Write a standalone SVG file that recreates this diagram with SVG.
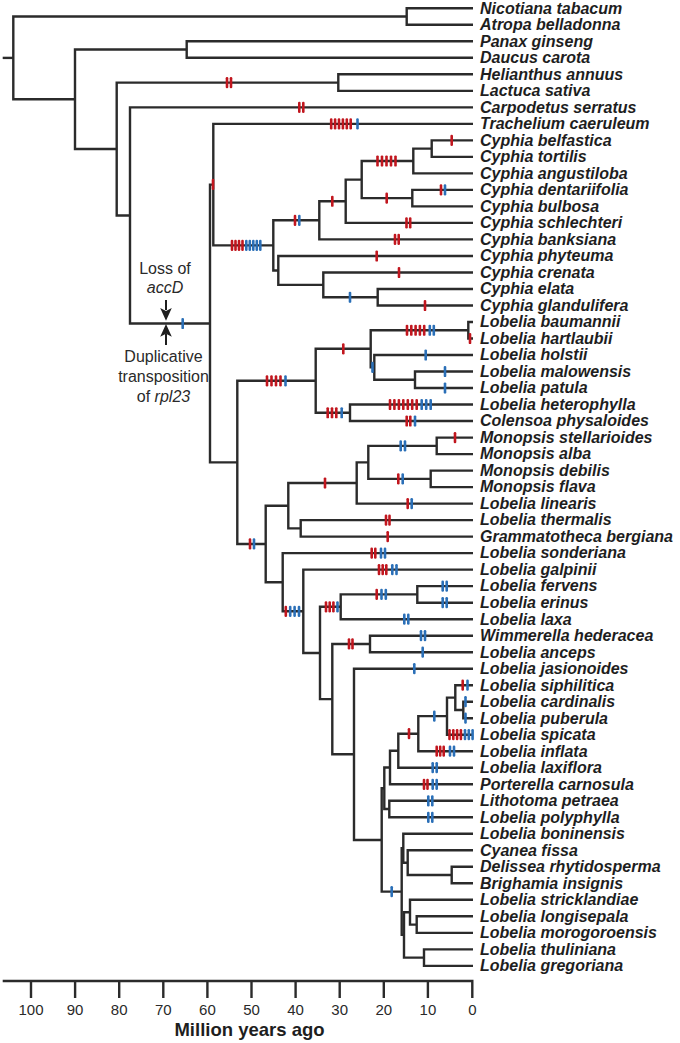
<svg xmlns="http://www.w3.org/2000/svg" width="680" height="1043" viewBox="0 0 680 1043">
<style>
.br{fill:none;stroke:#2b2b2b;stroke-width:2.4;stroke-linejoin:miter}
.lb{font-family:"Liberation Sans",Arial,sans-serif;font-size:16px;font-weight:bold;font-style:italic;fill:#1e1e1e}
.an{font-family:"Liberation Sans",Arial,sans-serif;font-size:16px;fill:#2a2a2a;text-anchor:middle}
.tk{font-family:"Liberation Sans",Arial,sans-serif;font-size:15px;fill:#2a2a2a;text-anchor:middle}
.ax{font-family:"Liberation Sans",Arial,sans-serif;font-size:18.5px;font-weight:bold;fill:#1e1e1e;text-anchor:middle}
</style>
<defs>
<rect id="r" x="-1.3" y="-5.6" width="2.6" height="11.2" rx="1.2" fill="#c1161e"/>
<rect id="b" x="-1.3" y="-5.6" width="2.6" height="11.2" rx="1.2" fill="#2a6fb7"/>
</defs>
<rect width="680" height="1043" fill="#fff"/>
<g id="connectors" class="br">
<path d="M2.7,57.9 H13.3"/>
<path d="M406.7,16.55 H13.3 V99.3 H75"/>
<path d="M473,8.3 H406.7 V24.8 H473"/>
<path d="M186.7,49.55 H75 V149 H116.7"/>
<path d="M473,41.3 H186.7 V57.8 H473"/>
<path d="M338.3,82.6 H116.7 V215.45 H130"/>
<path d="M473,74.3 H338.3 V90.9 H473"/>
<path d="M473,107.4 H130 V323.5 H210"/>
<path d="M213.3,184.65 H210 V462.4 H237.3"/>
<path d="M473,123.9 H213.3 V245.4 H273.3"/>
<path d="M319.3,220.3 H273.3 V270.45 H278.3"/>
<path d="M345.7,201.25 H319.3 V239.4 H473"/>
<path d="M361.7,179.6 H345.7 V222.9 H473"/>
<path d="M413.3,161 H361.7 V198.15 H412.3"/>
<path d="M431.7,148.65 H413.3 V173.4 H473"/>
<path d="M473,140.4 H431.7 V156.9 H473"/>
<path d="M473,189.9 H412.3 V206.4 H473"/>
<path d="M473,256 H278.3 V284.9 H323.3"/>
<path d="M473,272.5 H323.3 V297.25 H377.7"/>
<path d="M473,289 H377.7 V305.5 H473"/>
<path d="M315.7,380.8 H237.3 V543.95 H265.7"/>
<path d="M370.7,348.8 H315.7 V412.75 H350"/>
<path d="M468.3,330.25 H370.7 V367.4 H374.3"/>
<path d="M473,322 H468.3 V338.5 H473"/>
<path d="M473,355 H374.3 V379.75 H415"/>
<path d="M473,371.5 H415 V388 H473"/>
<path d="M473,404.5 H350 V421 H473"/>
<path d="M288.3,505.7 H265.7 V582.2 H282.7"/>
<path d="M356.7,483 H288.3 V528.35 H300.7"/>
<path d="M368.3,462.35 H356.7 V503.6 H473"/>
<path d="M436.7,445.85 H368.3 V478.85 H430.7"/>
<path d="M473,437.6 H436.7 V454.1 H473"/>
<path d="M473,470.6 H430.7 V487.1 H473"/>
<path d="M473,520.1 H300.7 V536.6 H473"/>
<path d="M473,553.1 H282.7 V611.3 H303.3"/>
<path d="M473,569.6 H303.3 V652.95 H320"/>
<path d="M340.7,606.8 H320 V699.1 H332.3"/>
<path d="M417.3,594.4 H340.7 V619.2 H473"/>
<path d="M473,586.1 H417.3 V602.7 H473"/>
<path d="M370,643.95 H332.3 V754.3 H354"/>
<path d="M473,635.7 H370 V652.2 H473"/>
<path d="M473,668.7 H354 V839.95 H381.7"/>
<path d="M384.3,788.3 H381.7 V891.6 H401.7"/>
<path d="M390,767.5 H384.3 V809.05 H389.3"/>
<path d="M398.3,750.7 H390 V784.3 H473"/>
<path d="M418.3,733.7 H398.3 V767.7 H473"/>
<path d="M447,716.15 H418.3 V751.2 H473"/>
<path d="M455.3,697.6 H447 V734.7 H473"/>
<path d="M473,685.2 H455.3 V709.95 H463.3"/>
<path d="M473,701.7 H463.3 V718.2 H473"/>
<path d="M473,800.8 H389.3 V817.3 H473"/>
<path d="M403.3,848.2 H401.7 V934.9 H404"/>
<path d="M473,833.8 H403.3 V862.7 H407.7"/>
<path d="M473,850.3 H407.7 V875.05 H451.7"/>
<path d="M473,866.8 H451.7 V883.3 H473"/>
<path d="M410,912.2 H404 V957.65 H424"/>
<path d="M473,899.8 H410 V924.6 H416.7"/>
<path d="M473,916.3 H416.7 V932.9 H473"/>
<path d="M473,949.4 H424 V965.9 H473"/>
</g>
<g id="ticks">
<use href="#r" x="227" y="82.6"/><use href="#r" x="231" y="82.6"/>
<use href="#r" x="299.3" y="107.4"/><use href="#r" x="303.3" y="107.4"/>
<use href="#r" x="331.2" y="123.9"/><use href="#r" x="335.1" y="123.9"/><use href="#r" x="339" y="123.9"/><use href="#r" x="342.9" y="123.9"/><use href="#r" x="346.8" y="123.9"/><use href="#r" x="350.7" y="123.9"/><use href="#b" x="357.5" y="123.9"/>
<use href="#r" x="377.5" y="161"/><use href="#r" x="382" y="161"/><use href="#r" x="386.5" y="161"/><use href="#r" x="391" y="161"/><use href="#r" x="395.5" y="161"/>
<use href="#r" x="451.7" y="140.4"/>
<use href="#r" x="332.3" y="201.25"/>
<use href="#r" x="386.7" y="198.15"/>
<use href="#r" x="441" y="189.9"/><use href="#b" x="445" y="189.9"/>
<use href="#r" x="406.5" y="222.9"/><use href="#r" x="410.2" y="222.9"/>
<use href="#r" x="395" y="239.4"/><use href="#r" x="398.7" y="239.4"/>
<use href="#r" x="295" y="220.3"/><use href="#b" x="299.3" y="220.3"/>
<use href="#r" x="232" y="245.4"/><use href="#r" x="235.5" y="245.4"/><use href="#r" x="239" y="245.4"/><use href="#r" x="242.5" y="245.4"/><use href="#b" x="246.3" y="245.4"/><use href="#b" x="249.8" y="245.4"/><use href="#b" x="253.3" y="245.4"/><use href="#b" x="256.8" y="245.4"/><use href="#b" x="260.3" y="245.4"/>
<use href="#r" x="376.7" y="256"/>
<use href="#r" x="399" y="272.5"/>
<use href="#b" x="350" y="297.25"/>
<use href="#r" x="425" y="305.5"/>
<use href="#b" x="182.7" y="323.5"/>
<use href="#r" x="213" y="184.4"/>
<use href="#r" x="267" y="380.8"/><use href="#r" x="271.5" y="380.8"/><use href="#r" x="276" y="380.8"/><use href="#r" x="280.5" y="380.8"/><use href="#b" x="285.5" y="380.8"/>
<use href="#r" x="343.3" y="348.8"/>
<use href="#r" x="407" y="330.25"/><use href="#r" x="411.3" y="330.25"/><use href="#r" x="415.6" y="330.25"/><use href="#r" x="419.9" y="330.25"/><use href="#r" x="424.2" y="330.25"/><use href="#b" x="429.8" y="330.25"/><use href="#b" x="433.8" y="330.25"/>
<use href="#r" x="470" y="338.5"/>
<use href="#b" x="372.5" y="367.4"/>
<use href="#b" x="425.7" y="355"/>
<use href="#b" x="445" y="371.5"/><use href="#b" x="445" y="388"/>
<use href="#r" x="327.7" y="412.75"/><use href="#r" x="332" y="412.75"/><use href="#r" x="336.3" y="412.75"/><use href="#b" x="341.7" y="412.75"/>
<use href="#r" x="390" y="404.5"/><use href="#r" x="394.4" y="404.5"/><use href="#r" x="398.9" y="404.5"/><use href="#r" x="403.3" y="404.5"/><use href="#r" x="407.8" y="404.5"/><use href="#r" x="412.2" y="404.5"/><use href="#r" x="416.7" y="404.5"/><use href="#b" x="421.7" y="404.5"/><use href="#b" x="426.2" y="404.5"/><use href="#b" x="430.7" y="404.5"/>
<use href="#r" x="406.7" y="421"/><use href="#r" x="410.3" y="421"/><use href="#b" x="415" y="421"/>
<use href="#b" x="400.7" y="445.85"/><use href="#b" x="405" y="445.85"/>
<use href="#r" x="455" y="437.6"/>
<use href="#r" x="398.3" y="478.85"/><use href="#b" x="402.7" y="478.85"/>
<use href="#r" x="325" y="483"/>
<use href="#r" x="407.7" y="503.6"/><use href="#b" x="411.7" y="503.6"/>
<use href="#r" x="386" y="520.1"/><use href="#r" x="389.5" y="520.1"/>
<use href="#r" x="387.7" y="536.6"/>
<use href="#r" x="250" y="543.95"/><use href="#b" x="254" y="543.95"/>
<use href="#r" x="371.7" y="553.1"/><use href="#r" x="375.3" y="553.1"/><use href="#b" x="381" y="553.1"/><use href="#b" x="385" y="553.1"/>
<use href="#r" x="379" y="569.6"/><use href="#r" x="382.7" y="569.6"/><use href="#r" x="386.3" y="569.6"/><use href="#b" x="392.3" y="569.6"/><use href="#b" x="396.5" y="569.6"/>
<use href="#r" x="285.8" y="611.3"/><use href="#b" x="290.2" y="611.3"/><use href="#b" x="294.6" y="611.3"/><use href="#b" x="299" y="611.3"/>
<use href="#r" x="326" y="606.8"/><use href="#r" x="329.7" y="606.8"/><use href="#r" x="333.4" y="606.8"/><use href="#b" x="337.5" y="606.8"/>
<use href="#r" x="376.7" y="594.4"/><use href="#b" x="381.5" y="594.4"/><use href="#b" x="385.8" y="594.4"/>
<use href="#b" x="442.7" y="586.1"/><use href="#b" x="446.7" y="586.1"/>
<use href="#b" x="442.7" y="602.7"/><use href="#b" x="446.7" y="602.7"/>
<use href="#b" x="404.3" y="619.2"/><use href="#b" x="408.3" y="619.2"/>
<use href="#r" x="349" y="643.95"/><use href="#r" x="352.5" y="643.95"/>
<use href="#b" x="421" y="635.7"/><use href="#b" x="425" y="635.7"/>
<use href="#b" x="422.7" y="652.2"/>
<use href="#b" x="414.3" y="668.7"/>
<use href="#r" x="462.7" y="685.2"/><use href="#b" x="467.5" y="685.2"/>
<use href="#b" x="465.5" y="701.7"/><use href="#b" x="465.5" y="718.2"/>
<use href="#b" x="434.3" y="716.15"/>
<use href="#r" x="449.5" y="734.7"/><use href="#r" x="453.3" y="734.7"/><use href="#r" x="457.1" y="734.7"/><use href="#r" x="460.9" y="734.7"/><use href="#b" x="465" y="734.7"/><use href="#b" x="468.8" y="734.7"/><use href="#b" x="472.6" y="734.7"/>
<use href="#r" x="409" y="733.7"/>
<use href="#r" x="436.7" y="751.2"/><use href="#r" x="440.2" y="751.2"/><use href="#r" x="443.7" y="751.2"/><use href="#b" x="450" y="751.2"/><use href="#b" x="454" y="751.2"/>
<use href="#b" x="432.7" y="767.7"/><use href="#b" x="436.7" y="767.7"/>
<use href="#r" x="424" y="784.3"/><use href="#r" x="427.5" y="784.3"/><use href="#b" x="432.7" y="784.3"/><use href="#b" x="436.7" y="784.3"/>
<use href="#b" x="428.3" y="800.8"/><use href="#b" x="432.3" y="800.8"/>
<use href="#b" x="428.3" y="817.3"/><use href="#b" x="432.3" y="817.3"/>
<use href="#b" x="391.7" y="891.6"/>
</g>
<g id="annotation">
<text class="an" x="165" y="274">Loss of</text>
<text class="an" x="165" y="293" font-style="italic">accD</text>
<path d="M166,300 V310" stroke="#1e1e1e" stroke-width="2" fill="none"/>
<polygon points="166,320.8 160.2,308 166,311 171.8,308" fill="#1e1e1e"/>
<polygon points="166,324 160.2,336.8 166,333.8 171.8,336.8" fill="#1e1e1e"/>
<path d="M166,334 V345" stroke="#1e1e1e" stroke-width="2" fill="none"/>
<text class="an" x="163.5" y="362.3">Duplicative</text>
<text class="an" x="163.5" y="382.3">transposition</text>
<text class="an" x="163.5" y="401.7">of <tspan font-style="italic">rpl23</tspan></text>
</g>
<g id="labels" class="lb">
<g id="n0"><text x="480" y="13.6">Nicotiana tabacum</text></g>
<g id="n1"><text x="480" y="30.1">Atropa belladonna</text></g>
<g id="n2"><text x="480" y="46.6">Panax ginseng</text></g>
<g id="n3"><text x="480" y="63.1">Daucus carota</text></g>
<g id="n4"><text x="480" y="79.6">Helianthus annuus</text></g>
<g id="n5"><text x="480" y="96.2">Lactuca sativa</text></g>
<g id="n6"><text x="480" y="112.7">Carpodetus serratus</text></g>
<g id="n7"><text x="480" y="129.2">Trachelium caeruleum</text></g>
<g id="n8"><text x="480" y="145.7">Cyphia belfastica</text></g>
<g id="n9"><text x="480" y="162.2">Cyphia tortilis</text></g>
<g id="n10"><text x="480" y="178.7">Cyphia angustiloba</text></g>
<g id="n11"><text x="480" y="195.2">Cyphia dentariifolia</text></g>
<g id="n12"><text x="480" y="211.7">Cyphia bulbosa</text></g>
<g id="n13"><text x="480" y="228.2">Cyphia schlechteri</text></g>
<g id="n14"><text x="480" y="244.7">Cyphia banksiana</text></g>
<g id="n15"><text x="480" y="261.3">Cyphia phyteuma</text></g>
<g id="n16"><text x="480" y="277.8">Cyphia crenata</text></g>
<g id="n17"><text x="480" y="294.3">Cyphia elata</text></g>
<g id="n18"><text x="480" y="310.8">Cyphia glandulifera</text></g>
<g id="n19"><text x="480" y="327.3">Lobelia baumannii</text></g>
<g id="n20"><text x="480" y="343.8">Lobelia hartlaubii</text></g>
<g id="n21"><text x="480" y="360.3">Lobelia holstii</text></g>
<g id="n22"><text x="480" y="376.8">Lobelia malowensis</text></g>
<g id="n23"><text x="480" y="393.3">Lobelia patula</text></g>
<g id="n24"><text x="480" y="409.8">Lobelia heterophylla</text></g>
<g id="n25"><text x="480" y="426.3">Colensoa physaloides</text></g>
<g id="n26"><text x="480" y="442.9">Monopsis stellarioides</text></g>
<g id="n27"><text x="480" y="459.4">Monopsis alba</text></g>
<g id="n28"><text x="480" y="475.9">Monopsis debilis</text></g>
<g id="n29"><text x="480" y="492.4">Monopsis flava</text></g>
<g id="n30"><text x="480" y="508.9">Lobelia linearis</text></g>
<g id="n31"><text x="480" y="525.4">Lobelia thermalis</text></g>
<g id="n32"><text x="480" y="541.9">Grammatotheca bergiana</text></g>
<g id="n33"><text x="480" y="558.4">Lobelia sonderiana</text></g>
<g id="n34"><text x="480" y="574.9">Lobelia galpinii</text></g>
<g id="n35"><text x="480" y="591.4">Lobelia fervens</text></g>
<g id="n36"><text x="480" y="608">Lobelia erinus</text></g>
<g id="n37"><text x="480" y="624.5">Lobelia laxa</text></g>
<g id="n38"><text x="480" y="641">Wimmerella hederacea</text></g>
<g id="n39"><text x="480" y="657.5">Lobelia anceps</text></g>
<g id="n40"><text x="480" y="674">Lobelia jasionoides</text></g>
<g id="n41"><text x="480" y="690.5">Lobelia siphilitica</text></g>
<g id="n42"><text x="480" y="707">Lobelia cardinalis</text></g>
<g id="n43"><text x="480" y="723.5">Lobelia puberula</text></g>
<g id="n44"><text x="480" y="740">Lobelia spicata</text></g>
<g id="n45"><text x="480" y="756.5">Lobelia inflata</text></g>
<g id="n46"><text x="480" y="773">Lobelia laxiflora</text></g>
<g id="n47"><text x="480" y="789.6">Porterella carnosula</text></g>
<g id="n48"><text x="480" y="806.1">Lithotoma petraea</text></g>
<g id="n49"><text x="480" y="822.6">Lobelia polyphylla</text></g>
<g id="n50"><text x="480" y="839.1">Lobelia boninensis</text></g>
<g id="n51"><text x="480" y="855.6">Cyanea fissa</text></g>
<g id="n52"><text x="480" y="872.1">Delissea rhytidosperma</text></g>
<g id="n53"><text x="480" y="888.6">Brighamia insignis</text></g>
<g id="n54"><text x="480" y="905.1">Lobelia stricklandiae</text></g>
<g id="n55"><text x="480" y="921.6">Lobelia longisepala</text></g>
<g id="n56"><text x="480" y="938.2">Lobelia morogoroensis</text></g>
<g id="n57"><text x="480" y="954.7">Lobelia thuliniana</text></g>
<g id="n58"><text x="480" y="971.2">Lobelia gregoriana</text></g>
</g>
<g id="axis">
<path class="br" d="M2.7,981 H473.5 M31,981 V998 M75.1,981 V998 M119.2,981 V998 M163.3,981 V998 M207.4,981 V998 M251.5,981 V998 M295.6,981 V998 M339.7,981 V998 M383.8,981 V998 M427.9,981 V998 M472.3,981 V998"/>
<text class="tk" x="31" y="1014.7">100</text>
<text class="tk" x="75.1" y="1014.7">90</text>
<text class="tk" x="119.2" y="1014.7">80</text>
<text class="tk" x="163.3" y="1014.7">70</text>
<text class="tk" x="207.4" y="1014.7">60</text>
<text class="tk" x="251.5" y="1014.7">50</text>
<text class="tk" x="295.6" y="1014.7">40</text>
<text class="tk" x="339.7" y="1014.7">30</text>
<text class="tk" x="383.8" y="1014.7">20</text>
<text class="tk" x="427.9" y="1014.7">10</text>
<text class="tk" x="472.3" y="1014.7">0</text>
<text class="ax" x="249.5" y="1036">Million years ago</text>
</g>
</svg>
